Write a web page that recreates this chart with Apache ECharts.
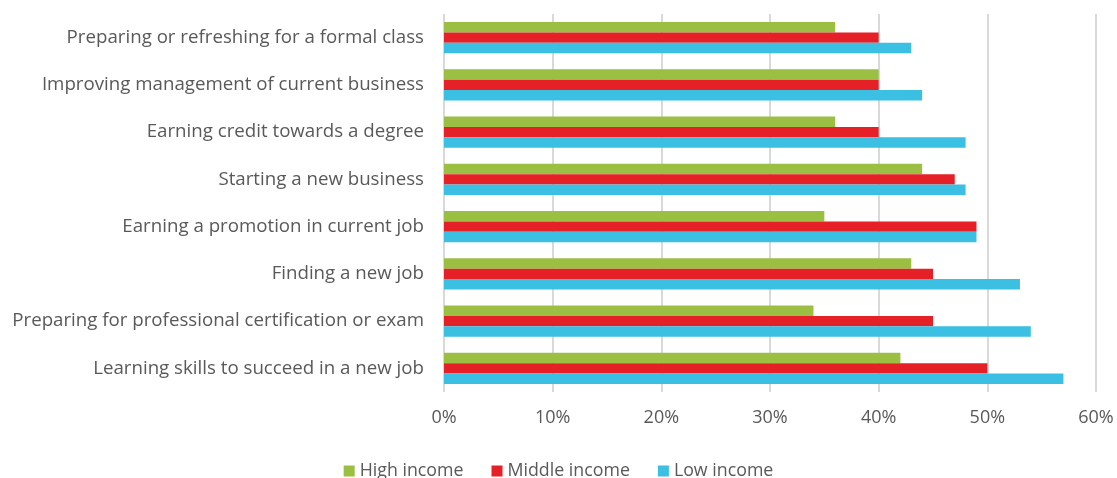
<!DOCTYPE html>
<html>
<head>
<meta charset="utf-8">
<script src="https://cdn.jsdelivr.net/npm/echarts@6/dist/echarts.min.js"></script>
<style>html,body{margin:0;padding:0;background:#fff}#c{width:1117px;height:478px}</style>
</head>
<body>
<div id="c"></div>
<script>
const categories = [
  "Preparing or refreshing for a formal class",
  "Improving management of current business",
  "Earning credit towards a degree",
  "Starting a new business",
  "Earning a promotion in current job",
  "Finding a new job",
  "Preparing for professional certification or exam",
  "Learning skills to succeed in a new job"
];
const seriesNames = ["High income", "Middle income", "Low income"];
const highIncome = [36, 40, 36, 44, 35, 43, 34, 42];
const middleIncome = [40, 40, 40, 47, 49, 45, 45, 50];
const lowIncome = [43, 44, 48, 48, 49, 53, 54, 57];
const colors = ["#9BBF43", "#E62027", "#3BBFE3"];

const FONT = "Open Sans";
const chart = echarts.init(document.getElementById('c'), null, {renderer: 'canvas'});
const data = [highIncome, middleIncome, lowIncome];
chart.setOption({
  animation: false,
  textStyle: {fontFamily: FONT, color: '#595959'},
  grid: {left: 444, right: 21, top: 14, bottom: 86, containLabel: false},
  legend: {
    top: 457, left: 'center',
    itemWidth: 11, itemHeight: 11, itemGap: 28,
    icon: 'rect',
    textStyle: {fontFamily: FONT, fontSize: 17.8, color: '#595959'},
    data: seriesNames
  },
  xAxis: {
    type: 'value', min: 0, max: 60, interval: 10,
    axisLine: {show: false}, axisTick: {show: false},
    splitLine: {show: true, lineStyle: {color: '#D9D9D9', width: 2}},
    axisLabel: {formatter: v => v + '%', fontFamily: FONT, fontSize: 18, color: '#595959', margin: 17}
  },
  yAxis: {
    type: 'category', inverse: true, data: categories,
    axisLine: {show: false}, axisTick: {show: false},
    axisLabel: {fontFamily: FONT, fontSize: 18.7, color: '#595959', margin: 20}
  },
  series: seriesNames.map((n, i) => ({
    name: n, type: 'bar', data: data[i],
    barGap: '0%', barCategoryGap: '34%',
    itemStyle: {color: colors[i]}
  }))
});
</script>
</body>
</html>
